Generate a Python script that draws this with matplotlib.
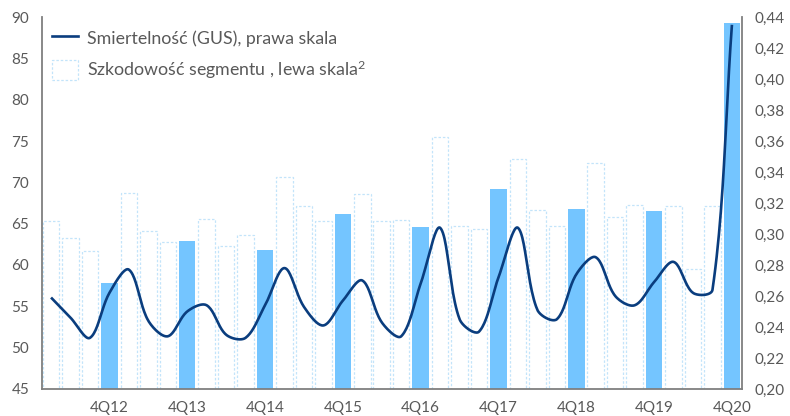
import numpy as np
import matplotlib
matplotlib.use('Agg')
import matplotlib.pyplot as plt
from matplotlib.patches import Patch
from matplotlib.lines import Line2D

plt.rcParams['font.family'] = ['Lato', 'DejaVu Sans']
plt.rcParams['mathtext.fontset'] = 'custom'
plt.rcParams['mathtext.rm'] = 'Lato'
plt.rcParams['mathtext.it'] = 'Lato'

# quarters 1Q12 .. 4Q20
quarters = [f'{q}Q{y}' for y in range(12, 21) for q in range(1, 5)]

# Szkodowość segmentu (left axis)
loss_ratio = [65.3, 63.3, 61.7, 57.8,
              68.7, 64.1, 62.8, 62.9,
              65.6, 62.3, 63.6, 61.8,
              70.7, 67.1, 65.3, 66.2,
              68.6, 65.3, 65.4, 64.6,
              75.5, 64.7, 64.3, 69.2,
              72.8, 66.6, 64.7, 66.8,
              72.3, 65.8, 67.3, 66.5,
              67.1, 59.5, 67.1, 89.3]

# Smiertelność GUS (right axis)
mortality = [0.259, 0.246, 0.233, 0.262,
             0.277, 0.244, 0.234, 0.250,
             0.254, 0.235, 0.233, 0.254,
             0.278, 0.253, 0.241, 0.257,
             0.270, 0.243, 0.234, 0.268,
             0.304, 0.245, 0.237, 0.272,
             0.304, 0.251, 0.245, 0.274,
             0.285, 0.260, 0.254, 0.269,
             0.282, 0.262, 0.264, 0.435]

line_c = '#0A3D7E'
fill_c = '#74C5FF'
edge_c = '#C3E4FA'
grey = '#595959'

fig = plt.figure(figsize=(7.9, 4.16), dpi=100)
ax = fig.add_axes([0.0528, 0.065, 0.886, 0.894])
ax2 = ax.twinx()

x = np.arange(len(quarters))
is_q4 = np.array([q.startswith('4Q') for q in quarters])
vals = np.array(loss_ratio)

ax.bar(x[~is_q4], vals[~is_q4], width=0.85, color='white', edgecolor=edge_c,
       linewidth=0.9, linestyle=(0, (2, 1.5)), zorder=2)
ax.bar(x[is_q4], vals[is_q4], width=0.85, color=fill_c, linewidth=0, zorder=2)

ax.set_xlim(-0.48, 35.5)
ax.set_ylim(45, 90)
ax.set_yticks(range(45, 91, 5))
ax2.set_ylim(0.20, 0.44)
ax2.set_yticks(np.arange(0.20, 0.441, 0.02))
ax2.set_yticklabels([f'{v:.2f}'.replace('.', ',') for v in np.arange(0.20, 0.441, 0.02)])

ax.set_xticks(x[is_q4])
ax.set_xticklabels([q for q in quarters if q.startswith('4Q')])


# Excel-like smoothed line (Bezier through the points, done in pixel space)
def smooth_path(xs, ys, trans, n=24):
    P = trans.transform(np.column_stack([xs, ys]))
    N = len(P)
    out = [P[0]]
    t = np.linspace(0, 1, n)[1:, None]
    for i in range(N - 1):
        p0 = P[i - 1] if i > 0 else P[i]
        p1, p2 = P[i], P[i + 1]
        p3 = P[i + 2] if i + 2 < N else P[i + 1]
        L0 = np.hypot(*(p1 - p0))
        L1 = np.hypot(*(p2 - p1))
        L2 = np.hypot(*(p3 - p2))
        w1 = L1 / (L0 + L1) if L0 + L1 > 0 else 0
        w2 = L1 / (L1 + L2) if L1 + L2 > 0 else 0
        c1 = p1 + (p2 - p0) * w1 / 3
        c2 = p2 - (p3 - p1) * w2 / 3
        seg = ((1 - t) ** 3) * p1 + 3 * ((1 - t) ** 2) * t * c1 + 3 * (1 - t) * t ** 2 * c2 + t ** 3 * p2
        out.extend(seg)
    out = np.array(out)
    return trans.inverted().transform(out)


sp = smooth_path(x, mortality, ax2.transData)
ax2.plot(sp[:, 0], sp[:, 1], color=line_c, linewidth=1.9, solid_capstyle='butt', zorder=3)

for a in (ax, ax2):
    for s in a.spines.values():
        s.set_visible(False)
    a.tick_params(length=0, colors=grey, labelsize=11)
ax.spines['left'].set_visible(True)
ax.spines['bottom'].set_visible(True)
ax2.spines['right'].set_visible(True)
for s in (ax.spines['left'], ax.spines['bottom'], ax2.spines['right']):
    s.set_color('#7F7F7F')
    s.set_linewidth(1.3)
ax.tick_params(axis='y', pad=9)
ax2.tick_params(axis='y', pad=9)
ax.tick_params(axis='x', pad=9)

handles = [Line2D([], [], color=line_c, linewidth=1.9),
           Patch(facecolor='white', edgecolor=edge_c, linewidth=0.9, linestyle=(0, (2, 1.5)))]
labels = ['Smiertelność (GUS), prawa skala', 'Szkodowość segmentu , lewa skala$^{2}$']
leg = ax2.legend(handles, labels, loc='upper left', bbox_to_anchor=(0.0, 0.999),
                 frameon=False, fontsize=12.8, labelcolor=grey, handlelength=1.45,
                 handleheight=1.3, handletextpad=0.5, labelspacing=0.62, borderpad=0.2,
                 borderaxespad=0.4)

fig.savefig('out.png', dpi=100)
